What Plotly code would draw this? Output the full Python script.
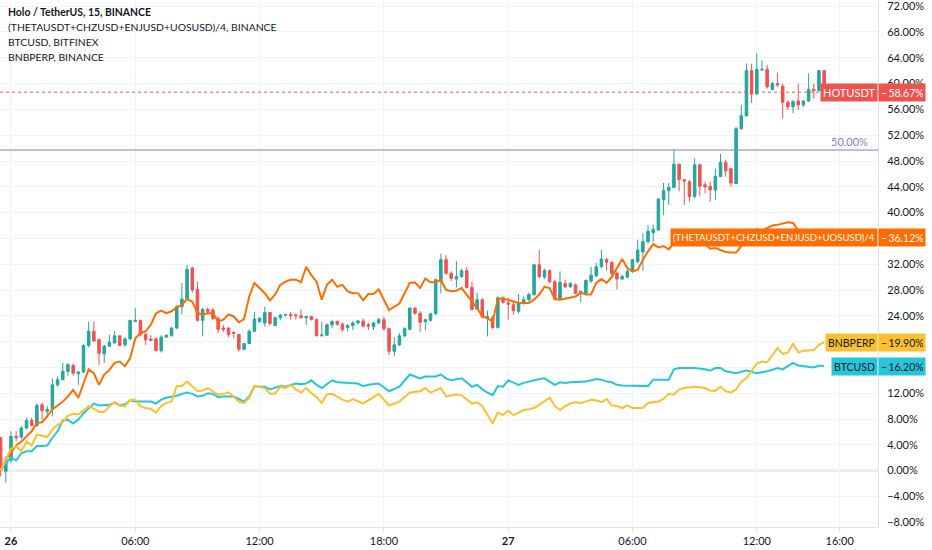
import numpy as np
import pandas as pd
import plotly.graph_objects as go

# ---------------- data (percent change vs first bar) ----------------
start = pd.Timestamp("2021-02-25 23:30")   # first 15-min bar
bar_minutes = 15

hot_open = [5.1, -0.1, 1.6, 5.3, 5.2, 6.6, 7.8, 7.0, 10.2, 9.2,
            9.5, 13.3, 14.1, 15.4, 16.3, 15.0, 15.3, 19.4, 21.6, 20.3,
            18.1, 19.3, 19.8, 20.9, 19.5, 20.4, 23.1, 23.3, 21.1, 20.4,
            20.4, 18.6, 20.7, 20.9, 22.1, 25.4, 26.6, 31.4, 28.1, 23.3,
            25.0, 24.9, 23.6, 22.1, 22.1, 21.4, 21.1, 18.8, 19.7, 21.6,
            23.1, 22.9, 24.5, 22.5, 23.7, 24.1, 24.2, 24.1, 24.0, 23.7,
            23.9, 23.4, 20.9, 21.0, 22.6, 23.1, 22.7, 22.2, 22.5, 22.9,
            23.2, 22.6, 22.3, 22.9, 23.4, 22.0, 18.5, 19.5, 20.9, 21.9,
            25.2, 24.4, 23.1, 23.3, 24.3, 29.3, 32.7, 30.6, 29.7, 30.1,
            31.0, 28.4, 25.0, 26.5, 23.7, 23.7, 22.2, 26.8, 26.0, 25.7,
            24.7, 26.0, 26.5, 27.3, 31.9, 30.0, 31.0, 29.3, 26.6, 29.0,
            28.5, 28.8, 27.5, 27.5, 29.4, 30.2, 31.6, 32.7, 32.3, 30.6,
            29.7, 30.0, 30.9, 32.4, 33.9, 35.5, 36.9, 37.3, 42.0, 43.4,
            43.9, 47.5, 45.1, 44.8, 42.5, 47.4, 44.3, 44.1, 43.5, 45.6,
            47.8, 46.8, 44.5, 53.0, 55.0, 62.0, 58.4, 62.1, 62.2, 59.1,
            60.0, 59.6, 57.1, 56.4, 57.3, 56.7, 57.3, 59.1, 58.9, 62.0]
hot_high = [5.2, 2.2, 6.1, 6.1, 6.9, 8.2, 8.2, 10.4, 10.5, 10.0,
            14.3, 14.6, 16.7, 16.7, 16.6, 15.4, 19.6, 23.1, 23.1, 20.5,
            19.5, 21.1, 21.6, 21.0, 20.7, 23.4, 25.2, 23.4, 21.3, 21.0,
            20.7, 21.0, 21.1, 22.3, 25.7, 29.1, 31.9, 31.6, 29.3, 25.2,
            25.3, 25.2, 23.9, 22.6, 22.2, 21.6, 21.2, 19.8, 21.9, 24.6,
            23.8, 25.4, 24.6, 23.9, 24.3, 24.3, 24.6, 24.4, 25.0, 23.9,
            24.0, 23.6, 23.1, 22.8, 23.4, 23.3, 23.0, 22.7, 23.2, 23.4,
            23.6, 22.9, 23.0, 23.7, 23.9, 22.2, 20.7, 21.3, 22.2, 25.3,
            25.3, 24.7, 23.4, 24.5, 29.8, 33.6, 33.4, 30.9, 32.5, 31.3,
            31.6, 29.3, 27.6, 26.7, 24.8, 24.0, 27.0, 27.0, 26.8, 26.1,
            27.4, 27.0, 27.6, 32.1, 34.2, 31.3, 31.2, 29.6, 30.9, 29.6,
            29.2, 29.0, 27.8, 29.6, 31.6, 32.2, 34.2, 33.0, 32.4, 30.9,
            30.4, 31.2, 32.8, 35.8, 36.8, 38.1, 38.1, 42.2, 44.6, 44.6,
            49.8, 47.6, 45.2, 45.0, 48.4, 47.6, 44.8, 44.8, 46.8, 49.1,
            48.2, 46.8, 53.3, 56.7, 63.1, 63.1, 64.7, 63.6, 62.9, 60.3,
            61.7, 60.0, 57.4, 57.5, 60.0, 57.4, 61.6, 60.0, 62.1, 62.1]
hot_low = [-0.9, -1.9, 1.2, 4.6, 4.9, 6.4, 6.9, 6.8, 7.9, 8.4,
           8.4, 13.0, 14.0, 14.7, 14.7, 13.3, 15.1, 19.1, 20.0, 16.4,
           16.7, 19.2, 19.7, 19.3, 19.2, 20.3, 23.1, 20.8, 19.5, 20.1,
           18.5, 18.3, 20.6, 20.8, 22.0, 24.2, 26.5, 27.6, 23.1, 20.8,
           24.2, 23.3, 21.3, 21.5, 20.7, 20.5, 18.5, 18.7, 19.6, 21.5,
           22.9, 22.3, 22.5, 22.4, 23.3, 23.9, 23.4, 23.4, 23.6, 22.6,
           23.3, 20.8, 20.8, 20.9, 22.1, 22.5, 21.5, 21.6, 21.8, 22.7,
           22.2, 21.8, 21.8, 22.7, 21.7, 17.9, 17.8, 19.3, 20.7, 21.8,
           24.2, 21.5, 21.8, 23.1, 24.2, 27.5, 30.4, 29.4, 28.4, 29.9,
           28.2, 24.8, 24.9, 23.6, 20.8, 21.9, 22.0, 25.9, 23.4, 24.2,
           24.4, 25.7, 26.2, 27.1, 29.8, 29.7, 29.0, 26.4, 26.4, 28.3,
           28.3, 27.4, 26.1, 27.3, 29.1, 30.0, 31.4, 31.0, 30.0, 28.1,
           29.6, 29.8, 30.7, 32.1, 31.0, 35.2, 35.5, 37.2, 39.6, 41.2,
           43.8, 43.3, 41.2, 41.7, 42.2, 42.5, 43.0, 41.7, 42.0, 45.5,
           45.6, 44.0, 44.4, 52.9, 54.9, 57.0, 58.3, 62.0, 59.2, 58.9,
           59.5, 54.6, 55.9, 55.4, 55.9, 56.4, 57.2, 57.7, 58.8, 57.5]
hot_close = [0.0, 1.6, 5.3, 5.1, 6.6, 7.8, 7.0, 10.1, 9.3, 9.5,
             13.3, 14.1, 15.4, 16.4, 15.1, 15.3, 19.4, 21.6, 20.1, 18.2,
             19.3, 19.9, 20.9, 19.4, 20.4, 23.3, 23.3, 21.1, 20.3, 20.2,
             18.6, 20.7, 21.0, 22.1, 25.4, 26.6, 31.2, 28.0, 23.3, 25.0,
             24.7, 23.6, 21.9, 21.9, 21.1, 21.3, 18.8, 19.7, 21.6, 23.5,
             23.6, 24.5, 22.8, 23.7, 24.1, 24.2, 24.0, 24.0, 23.7, 23.9,
             23.4, 20.9, 21.0, 22.6, 23.1, 22.7, 21.9, 22.5, 22.9, 23.2,
             22.4, 22.4, 22.9, 23.4, 22.0, 18.5, 19.5, 20.9, 22.0, 25.2,
             24.4, 23.0, 23.4, 24.3, 29.6, 32.7, 30.6, 29.8, 30.1, 31.0,
             28.4, 25.0, 26.5, 23.8, 23.9, 22.2, 26.8, 26.1, 25.8, 24.8,
             26.0, 26.5, 27.3, 31.9, 30.1, 31.0, 29.3, 26.6, 29.2, 28.5,
             29.0, 27.5, 27.8, 29.5, 30.3, 31.6, 32.8, 32.3, 30.6, 29.7,
             30.1, 30.9, 32.7, 34.2, 35.5, 37.1, 37.4, 42.1, 43.4, 43.9,
             47.5, 45.1, 44.9, 42.5, 47.4, 44.1, 44.0, 43.5, 45.6, 47.8,
             46.5, 44.6, 53.0, 55.0, 62.0, 58.4, 62.2, 62.2, 59.5, 60.0,
             59.8, 57.1, 56.4, 57.2, 56.7, 57.3, 59.1, 58.9, 62.0, 58.67]

# comparison series: bar number -> percent
theta_bar = list(range(0, 74)) + [75, 77] + list(range(79, 101)) + list(range(102, 160))
theta_val = [0.0, 1.7, 2.8, 3.9, 4.5, 5.3, 6.1, 7.4, 7.5, 8.4,
             9.5, 10.1, 10.7, 11.5, 12.5, 11.3, 13.6, 15.7, 15.1, 13.3,
             14.9, 15.6, 16.7, 16.9, 16.2, 17.4, 20.5, 21.3, 21.6, 22.6,
             24.4, 24.8, 24.4, 24.7, 25.3, 25.7, 26.6, 26.2, 24.4, 24.2,
             24.4, 24.4, 23.1, 23.4, 24.2, 23.9, 23.0, 23.5, 27.0, 29.1,
             28.3, 27.5, 26.4, 27.3, 28.8, 29.3, 29.6, 29.6, 29.2, 31.6,
             30.3, 29.3, 26.5, 28.8, 29.6, 28.5, 28.8, 27.8, 27.5, 27.5,
             26.4, 27.4, 27.4, 28.1,
             24.9, 25.9,
             29.1, 29.2, 28.3, 29.8, 29.2, 29.2, 29.6, 28.0, 27.8, 27.9,
             28.3, 27.3, 26.2, 25.2, 23.9, 23.6, 23.1, 26.6, 26.7, 26.5,
             26.2, 26.0,
             26.0, 26.5, 27.3, 28.5, 28.3, 26.6, 26.5, 26.7, 26.9, 27.0,
             27.6, 27.3, 27.3, 29.1, 29.7, 29.1, 30.0, 31.4, 32.8, 31.4,
             30.9, 31.1, 32.7, 34.0, 35.1, 34.6, 34.8, 34.3, 35.3, 35.9,
             36.5, 37.0, 37.3, 36.4, 35.2, 34.4, 34.5, 34.2, 33.9, 33.8,
             33.8, 34.8, 36.2, 37.0, 37.4, 37.2, 37.6, 38.0, 38.1, 38.3,
             38.5, 38.4, 37.2, 36.4, 36.0, 36.2, 36.0, 36.12]

btc_bar = (list(range(0, 63)) + [64, 65, 67, 68, 69, 70, 71, 73, 75, 77]
           + list(range(79, 83)) + list(range(84, 122)) + [123, 125, 126, 128, 129, 130, 131, 132, 134,
           136, 137, 138, 139, 140, 142, 144, 146, 148, 150, 151, 153, 154, 157, 158, 159])
btc_val = [0.0, 1.2, 2.0, 1.6, 2.7, 3.0, 3.0, 3.8, 3.8, 3.9,
           5.1, 6.1, 7.8, 7.9, 7.3, 7.9, 8.9, 9.7, 10.4, 10.1,
           10.1, 10.2, 10.5, 10.1, 10.3, 10.9, 10.7, 10.7, 10.7, 10.7,
           10.4, 11.0, 11.3, 11.4, 11.6, 11.9, 12.1, 11.9, 11.5, 11.6,
           12.0, 11.9, 11.4, 11.5, 11.5, 11.5, 11.1, 10.7, 11.5, 13.1,
           13.0, 13.0, 12.6, 12.8, 13.1, 13.0, 13.3, 13.5, 13.4, 13.5,
           14.0, 13.3, 12.8,
           14.0, 13.7, 13.6, 13.6, 13.5, 13.1, 13.3, 13.5, 12.3, 13.0,
           14.9, 14.6, 14.3, 14.6,
           14.6, 14.9, 14.3, 14.0, 14.1, 14.3, 13.7, 13.0, 13.3, 12.6,
           12.1, 11.7, 13.1, 13.0, 14.0, 13.7, 13.3, 13.6, 13.8, 14.1,
           14.2, 14.3, 13.8, 13.3, 13.7, 13.6, 13.7, 13.7, 13.8, 13.8,
           14.0, 14.2, 14.1, 13.8, 13.7, 13.3, 13.2, 13.2,
           13.1, 13.1, 14.1, 14.1, 14.1, 15.7, 15.9, 15.9, 15.9,
           15.7, 15.5, 15.9, 15.9, 15.4, 15.1, 15.5, 15.1, 15.4, 15.9,
           15.7, 16.7, 16.3, 16.0, 16.3, 16.2]

bnb_bar = ([0] + list(range(2, 65)) + [66, 67, 68, 70, 73, 75, 77, 79, 81, 82, 83, 85, 86, 88, 89]
           + list(range(91, 123)) + [124, 125, 127, 128, 129, 130, 131, 132, 134, 136, 137, 138,
           139, 140, 141, 142, 143, 144, 146, 147, 148, 150, 151, 152, 153, 154, 155, 157, 158, 159])
bnb_val = [0.0, 3.4, 3.8, 3.0, 4.5, 3.9, 5.6, 5.4, 5.2, 6.4,
           7.1, 7.5, 8.5, 8.8, 8.7, 9.3, 10.0, 9.6, 9.1, 9.1,
           10.0, 10.6, 10.1, 10.0, 10.9, 11.0, 10.0, 9.7, 9.6, 9.0,
           10.0, 10.5, 10.7, 13.1, 13.1, 13.8, 13.1, 12.3, 12.4, 12.8,
           12.3, 11.8, 11.9, 12.1, 11.5, 10.7, 10.5, 11.3, 13.1, 13.0,
           12.8, 11.9, 11.9, 13.0, 12.8, 13.3, 12.6, 12.1, 12.8, 12.0,
           11.4, 10.5, 11.8, 11.9,
           11.0, 10.7, 11.1, 10.4, 11.9, 10.1, 10.7, 12.1, 12.3, 12.8,
           12.1, 12.8, 11.5, 11.8, 11.7,
           10.4, 10.6, 10.0, 8.7, 7.3, 9.0, 8.6, 9.3, 8.6, 9.0,
           9.4, 9.5, 9.7, 10.2, 10.7, 11.3, 10.0, 9.4, 10.0, 10.4,
           10.6, 10.5, 10.7, 11.0, 10.9, 10.6, 11.1, 10.1, 10.0, 9.7,
           10.1, 9.7,
           9.7, 10.5, 10.7, 11.1, 11.9, 11.8, 12.6, 12.8, 13.0, 12.8,
           12.4, 12.4, 13.0, 12.3, 12.1, 12.6, 13.8, 14.3, 16.6, 16.9,
           16.8, 19.0, 18.1, 18.3, 19.7, 18.3, 18.6, 18.7, 19.5, 19.9]

hline_level = 49.7      # horizontal line drawn by the user
hline_text = "50.00%"

x_ticks = ["2021-02-26 00:00", "2021-02-26 06:00", "2021-02-26 12:00", "2021-02-26 18:00",
           "2021-02-27 00:00", "2021-02-27 06:00", "2021-02-27 12:00", "2021-02-27 16:00"]
x_tick_text = ["<b>26</b>", "06:00", "12:00", "18:00", "<b>27</b>", "06:00", "12:00", "16:00"]
y_ticks = list(range(-8, 73, 4))

legend_lines = ["<b>Holo / TetherUS, 15, BINANCE</b>",
                "(THETAUSDT+CHZUSD+ENJUSD+UOSUSD)/4, BINANCE",
                "BTCUSD, BITFINEX",
                "BNBPERP, BINANCE"]
series_names = ["HOTUSDT", "(THETAUSDT+CHZUSD+ENJUSD+UOSUSD)/4", "BNBPERP", "BTCUSD"]

# ---------------- figure ----------------
step = pd.Timedelta(minutes=bar_minutes)
def t(bars):
    return [start + step * b for b in bars]

n = len(hot_close)
times = t(range(n))
last_vals = [hot_close[-1], theta_val[-1], bnb_val[-1], btc_val[-1]]

UP, DOWN = "#26a69a", "#ef5350"
ORANGE, CYAN, YELLOW, PURPLE = "#ff6d00", "#26c6da", "#fbc02d", "#9575cd"
FONT = "Lato"
TXT = "#131722"

fig = go.Figure()
fig.add_trace(go.Candlestick(
    x=times, open=hot_open, high=hot_high, low=hot_low, close=hot_close,
    increasing=dict(line=dict(color=UP, width=1), fillcolor=UP),
    decreasing=dict(line=dict(color=DOWN, width=1), fillcolor=DOWN),
    whiskerwidth=0, showlegend=False, hoverinfo="skip"))
fig.add_trace(go.Scatter(x=t(theta_bar), y=theta_val, mode="lines",
                         line=dict(color=ORANGE, width=2), showlegend=False))
fig.add_trace(go.Scatter(x=t(btc_bar), y=btc_val, mode="lines",
                         line=dict(color=CYAN, width=2), showlegend=False))
fig.add_trace(go.Scatter(x=t(bnb_bar), y=bnb_val, mode="lines",
                         line=dict(color=YELLOW, width=2), showlegend=False))

# zero line, user horizontal line, last-price line
fig.add_hline(y=0, line=dict(color="#d1d4dc", width=2), layer="below")
fig.add_hline(y=hline_level, line=dict(color=PURPLE, width=1))
fig.add_hline(y=hot_close[-1], line=dict(color=DOWN, width=1, dash="dot"))

W, H = 932, 550
ML, MR, MT, MB = 0, 54, 0, 23
PW = W - ML - MR
PH = H - MT - MB

x0 = start + step * (-0.12)
x1 = start + step * 169.4

# scale labels that sit completely under a price tag are not visible
def tick_label(v):
    if any(abs(v - lv) < 1.3 for lv in last_vals[1:]):
        return ""
    return ("\u2212" if v < 0 else "") + f"{abs(v):.2f}%"

fig.update_layout(
    width=W, height=H,
    margin=dict(l=ML, r=MR, t=MT, b=MB),
    paper_bgcolor="white", plot_bgcolor="white",
    font=dict(family=FONT, size=11, color=TXT),
    showlegend=False,
    xaxis=dict(type="date", range=[x0, x1], rangeslider=dict(visible=False),
               tickvals=[pd.Timestamp(v) for v in x_ticks], ticktext=x_tick_text,
               showgrid=True, gridcolor="#f0f3fa", gridwidth=1,
               showline=True, linecolor="#e0e3eb", linewidth=1,
               ticks="outside", ticklen=4, tickcolor="#e0e3eb",
               tickfont=dict(size=11, color=TXT), zeroline=False, fixedrange=True),
    yaxis=dict(side="right", range=[-8.74, 72.96], tickvals=y_ticks,
               ticktext=[tick_label(v) for v in y_ticks],
               showgrid=True, gridcolor="#f0f3fa", gridwidth=1,
               showline=True, linecolor="#e0e3eb", linewidth=1,
               ticks="outside", ticklen=6, tickcolor="rgba(0,0,0,0)",
               ticklabeloverflow="allow",
               tickfont=dict(size=11, color=TXT), zeroline=False, fixedrange=True),
)

# legend text at top-left
for k, txt in enumerate(legend_lines):
    fig.add_annotation(xref="paper", yref="paper", x=6 / PW, y=1 - (12 + 15 * k) / PH,
                       xanchor="left", yanchor="middle", showarrow=False,
                       text=txt, font=dict(size=10.4, color=TXT, family=FONT))

# price-scale labels: name part left of the axis, value part on the scale
styles = [(DOWN, "white", 11), (ORANGE, "white", 9.6), (YELLOW, TXT, 10.5), (CYAN, TXT, 10.5)]
for name, val, (bg, fg, fs) in zip(series_names, last_vals, styles):
    fig.add_annotation(xref="paper", yref="y", x=1.0, y=val,
                       xanchor="right", yanchor="middle", showarrow=False,
                       text=name, font=dict(size=fs, color=fg, family=FONT),
                       bgcolor=bg, borderpad=2, height=13, valign="middle")
    fig.add_annotation(xref="paper", yref="y", x=1.0, y=val,
                       xanchor="left", yanchor="middle", showarrow=False,
                       text=f"\u2013\u2009{val:.2f}%", font=dict(size=10.5, color=fg, family=FONT),
                       bgcolor=bg, borderpad=2, height=13, width=42, align="left",
                       valign="middle")

fig.add_annotation(xref="paper", yref="y", x=870 / PW, y=hline_level,
                   xanchor="right", yanchor="bottom", showarrow=False,
                   text=hline_text, font=dict(size=11, color=PURPLE, family=FONT))

fig.write_html("out.html", config={"displayModeBar": False},
               post_script="document.body.style.margin='0';")
